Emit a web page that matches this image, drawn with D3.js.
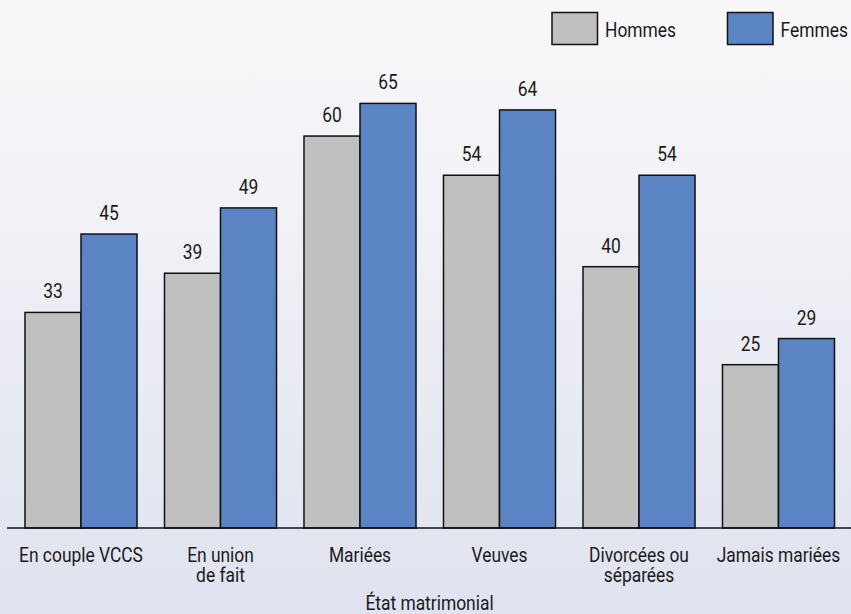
<!DOCTYPE html>
<html>
<head>
<meta charset="utf-8">
<script src="https://cdn.jsdelivr.net/npm/d3@7"></script>
<style>
  html, body { margin: 0; padding: 0; }
  body { width: 851px; height: 614px; overflow: hidden; }
  text { font-family: "Roboto", "Liberation Sans", sans-serif; fill: #1a1a1a; }
</style>
</head>
<body>
<svg id="chart" width="851" height="614"></svg>
<script>
const categories = [["En couple VCCS"], ["En union", "de fait"], ["Mariées"], ["Veuves"], ["Divorcées ou", "séparées"], ["Jamais mariées"]];
const seriesNames = ["Hommes", "Femmes"];
const hommes = [33, 39, 60, 54, 40, 25];
const femmes = [45, 49, 65, 64, 54, 29];
const colors = ["#c0c0c0", "#5b84c4"];
const xTitle = "État matrimonial";

const svg = d3.select("#chart");
const W = 851, H = 614;
const SX = 0.87; // horizontal condensation of text

const defs = svg.append("defs");
const grad = defs.append("linearGradient").attr("id", "bg").attr("x1", 0).attr("y1", 0).attr("x2", 0).attr("y2", 1);
grad.append("stop").attr("offset", "0%").attr("stop-color", "#f8f8fa");
grad.append("stop").attr("offset", "40%").attr("stop-color", "#f0f0f6");
grad.append("stop").attr("offset", "100%").attr("stop-color", "#dfe3ef");
svg.append("rect").attr("width", W).attr("height", H).attr("fill", "url(#bg)");

function label(parent, x, yy, lines, anchor, size) {
  const g = parent.append("g").attr("transform", `translate(${x},${yy}) scale(${SX},1)`);
  const t = g.append("text").attr("text-anchor", anchor).attr("font-size", size);
  lines.forEach((line, j) => {
    t.append("tspan").attr("x", 0).attr("dy", j === 0 ? 0 : 20).text(line);
  });
  return t;
}

const idx = d3.range(categories.length);
const x0 = d3.scaleBand().domain(idx).range([11.25, 848.25]).paddingInner(0.197).paddingOuter(0.0985);
const x1 = d3.scaleBand().domain(seriesNames).range([0, x0.bandwidth()]);
const y = d3.scaleLinear().domain([0, 65]).range([528, 103.4]);

const data = [hommes, femmes];

const groups = svg.append("g").selectAll("g").data(idx).join("g")
  .attr("transform", i => `translate(${x0(i)},0)`);

groups.selectAll("rect").data(i => seriesNames.map((s, k) => ({ s, k, v: data[k][i] }))).join("rect")
  .attr("x", d => x1(d.s))
  .attr("y", d => y(d.v))
  .attr("width", x1.bandwidth())
  .attr("height", d => y(0) - y(d.v))
  .attr("fill", d => colors[d.k])
  .attr("stroke", "#111")
  .attr("stroke-width", 1.5);

groups.each(function(i) {
  const g = d3.select(this);
  seriesNames.forEach((s, k) => {
    const v = data[k][i];
    label(g, x1(s) + x1.bandwidth() / 2, y(v) - 14, [String(v)], "middle", 20);
  });
});

// baseline axis
const xAxis = d3.axisBottom(x0).tickSize(0).tickFormat("");
const ax = svg.append("g").attr("transform", `translate(0,${y(0)})`).call(xAxis);
ax.select(".domain").attr("d", "M7,0H851").attr("stroke", "#111").attr("stroke-width", 1.5);

// category labels
const catG = svg.append("g");
idx.forEach(i => {
  label(catG, x0(i) + x0.bandwidth() / 2, 562, categories[i], "middle", 20);
});

label(svg, 429.5, 610, [xTitle], "middle", 20);

// legend
const legendX = [552, 727.5];
seriesNames.forEach((s, k) => {
  svg.append("rect").attr("x", legendX[k]).attr("y", 12.5).attr("width", 45.5).attr("height", 32)
    .attr("fill", colors[k]).attr("stroke", "#111").attr("stroke-width", 1.5);
  label(svg, legendX[k] + 53, 37, [s], "start", 20);
});
</script>
</body>
</html>
